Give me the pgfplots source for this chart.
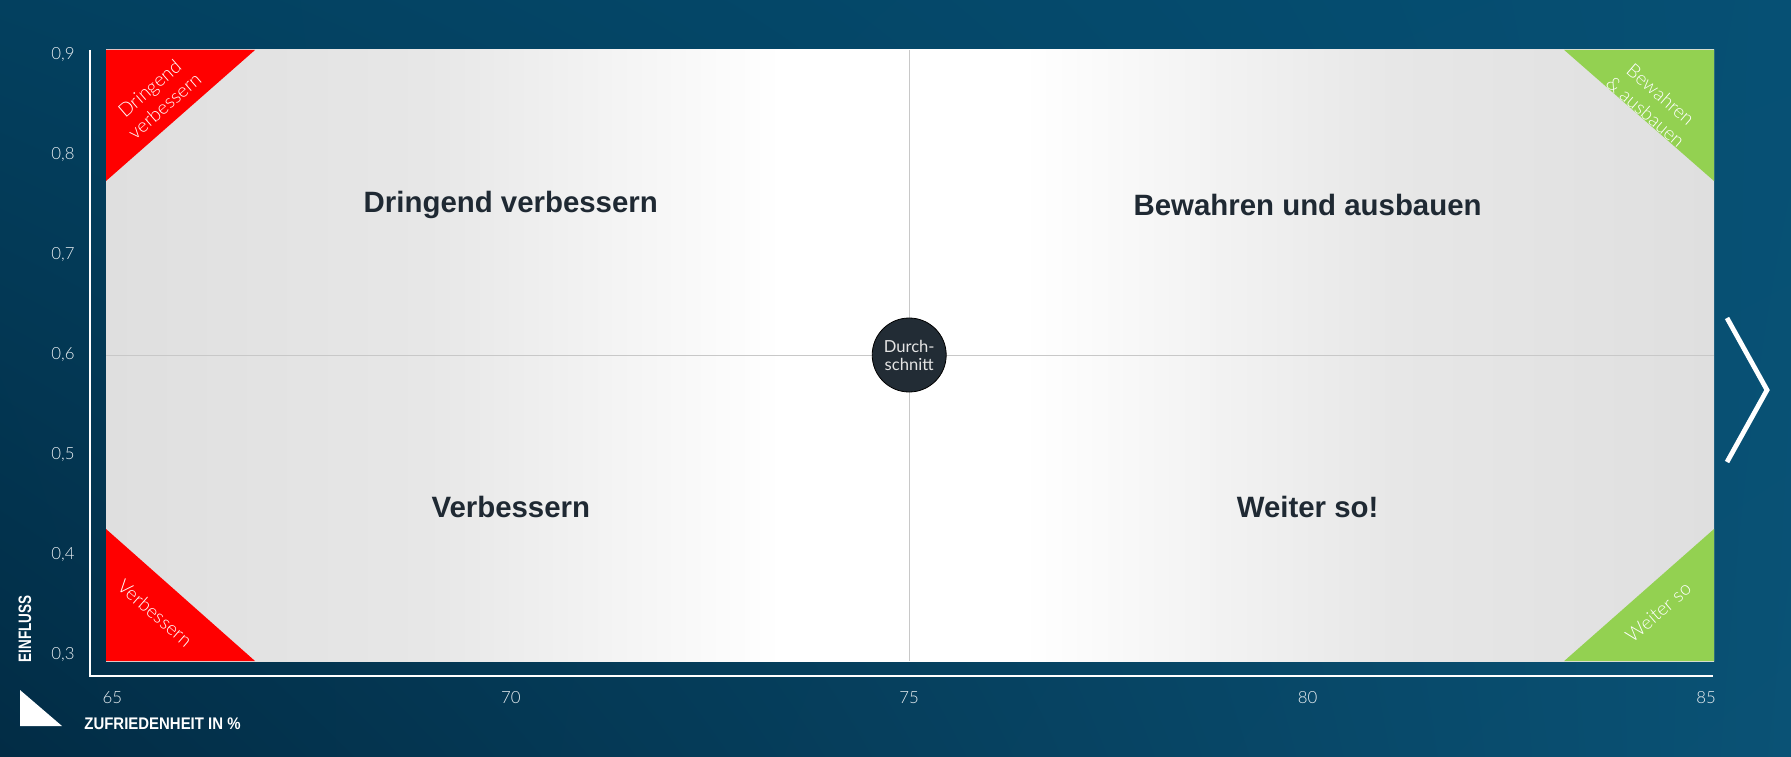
\documentclass[border=0pt]{standalone}
\usepackage{fontspec}
\setmainfont{Liberation Sans}
\newfontfamily\lightfont{Lato Light}
\newfontfamily\regfont{Lato}
\usepackage{graphicx}
\usepackage{pgfplots}
\pgfplotsset{compat=1.18}
\usetikzlibrary{shadings}

% colours read off the picture
\definecolor{bgUL}{HTML}{03405F}
\definecolor{bgUR}{HTML}{065074}
\definecolor{bgLL}{HTML}{022C45}
\definecolor{bgLR}{HTML}{0A5275}
\definecolor{plotgray}{HTML}{DFDFDF}
\definecolor{plotgrayb}{HTML}{E7E7E7}
\definecolor{trired}{HTML}{FF0000}
\definecolor{trigreen}{HTML}{93D151}
\definecolor{qtext}{HTML}{1F2933}
\definecolor{circ}{HTML}{222C35}
\definecolor{midline}{HTML}{C8C8C8}
\definecolor{ticktext}{HTML}{EDF2F5}

% grey at the sides, white round the average line
\pgfdeclarehorizontalshading{plotbg}{100bp}{%
  color(0bp)=(plotgray); color(25bp)=(plotgray); color(35bp)=(plotgrayb);
  color(46bp)=(white); color(53.5bp)=(white); color(65bp)=(plotgrayb);
  color(75bp)=(plotgray); color(100bp)=(plotgray)}

\begin{document}
\begin{tikzpicture}
\path[use as bounding box] (0,0) rectangle (895.5pt,378pt);
\shade[upper left=bgUL, upper right=bgUR, lower left=bgLL, lower right=bgLR]
  (0,0) rectangle (895.5pt,378pt);

\begin{axis}[
    at={(53pt,47.5pt)}, anchor=south west,
    scale only axis, width=804pt, height=305.5pt,
    xmin=64.92, xmax=85.1, ymin=0.294, ymax=0.905,
    axis line style={draw=none},
    major tick style={draw=none},
    axis background/.style={shade, shading=plotbg},
    xtick={65,70,75,80,85},
    ytick={0.3,0.4,0.5,0.6,0.7,0.8,0.9},
    scaled y ticks=false,
    /pgf/number format/assume math mode=true,
    ticklabel style={font=\lightfont\fontsize{8.4}{10}\selectfont, text=ticktext},
    yticklabel style={/pgf/number format/fixed, /pgf/number format/fixed zerofill,
      /pgf/number format/precision=1, /pgf/number format/use comma,
      anchor=east, inner sep=0pt, xshift=-15.5pt},
    xticklabel style={anchor=north, inner sep=0pt, yshift=-15pt},
    clip=false,
]

  % corner triangles
  \addplot[draw=none, fill=trired] coordinates {(64.92,0.905) (66.79,0.905) (64.92,0.774)} -- cycle;
  \addplot[draw=none, fill=trired] coordinates {(64.92,0.294) (66.79,0.294) (64.92,0.426)} -- cycle;
  \addplot[draw=none, fill=trigreen] coordinates {(85.1,0.905) (83.22,0.905) (85.1,0.774)} -- cycle;
  \addplot[draw=none, fill=trigreen] coordinates {(85.1,0.294) (83.22,0.294) (85.1,0.426)} -- cycle;

  % average lines
  \addplot[midline, line width=0.5pt] coordinates {(75,0.294) (75,0.905)};
  \addplot[midline, line width=0.5pt] coordinates {(64.92,0.6) (85.1,0.6)};

  % average point, its label on top
  \addplot[only marks, mark=*, mark size=18.5pt, mark options={fill=circ, draw=none},
    nodes near coords={Durch-\\schnitt},
    every node near coord/.append style={anchor=center, align=center, text=white!90!black,
      font=\regfont\fontsize{8.3}{9}\selectfont}]
    coordinates {(75,0.6)};

  % quadrant names
  \node[text=qtext, font=\bfseries\fontsize{14.7}{16}\selectfont] at (axis cs:70,0.75) {Dringend verbessern};
  \node[text=qtext, font=\bfseries\fontsize{14.7}{16}\selectfont] at (axis cs:80,0.75) {Bewahren und ausbauen};
  \node[text=qtext, font=\bfseries\fontsize{14.7}{16}\selectfont] at (axis cs:70,0.448) {Verbessern};
  \node[text=qtext, font=\bfseries\fontsize{14.7}{16}\selectfont] at (axis cs:80,0.448) {Weiter so!};

  % triangle labels
  \node[rotate=41, align=center, text=white, font=\lightfont\fontsize{9.5}{11.5}\selectfont]
    at (axis cs:65.56,0.858) {Dringend\\verbessern};
  \node[rotate=-41, text=white, font=\lightfont\fontsize{9.5}{11.5}\selectfont]
    at (axis cs:65.535,0.342) {Verbessern};
  \node[rotate=-41, align=center, text=white, font=\lightfont\fontsize{9.5}{11.5}\selectfont]
    at (axis cs:84.335,0.852) {Bewahren\\\& ausbauen};
  \node[rotate=41, text=white, font=\lightfont\fontsize{9.5}{11.5}\selectfont]
    at (axis cs:84.40,0.343) {Weiter so};

\end{axis}

% axis frame lines, labels and decorations
\draw[white, line width=1pt] (45pt,353pt) -- (45pt,40pt) -- (856.5pt,40pt);
\node[rotate=90, text=white, font=\bfseries\fontsize{9}{9}\selectfont]
  at (12.5pt,63.5pt) {\scalebox{0.75}[1]{EINFLUSS}};
\node[text=white, font=\bfseries\fontsize{8.4}{9}\selectfont]
  at (81.25pt,16pt) {\scalebox{0.89}[1]{ZUFRIEDENHEIT IN \%}};
\fill[white] (10pt,33pt) -- (10pt,15pt) -- (31pt,15pt) -- cycle;
\draw[white, line width=2.4pt] (863.5pt,219pt) -- (883.5pt,183pt) -- (863.5pt,147pt);
\end{tikzpicture}
\end{document}
